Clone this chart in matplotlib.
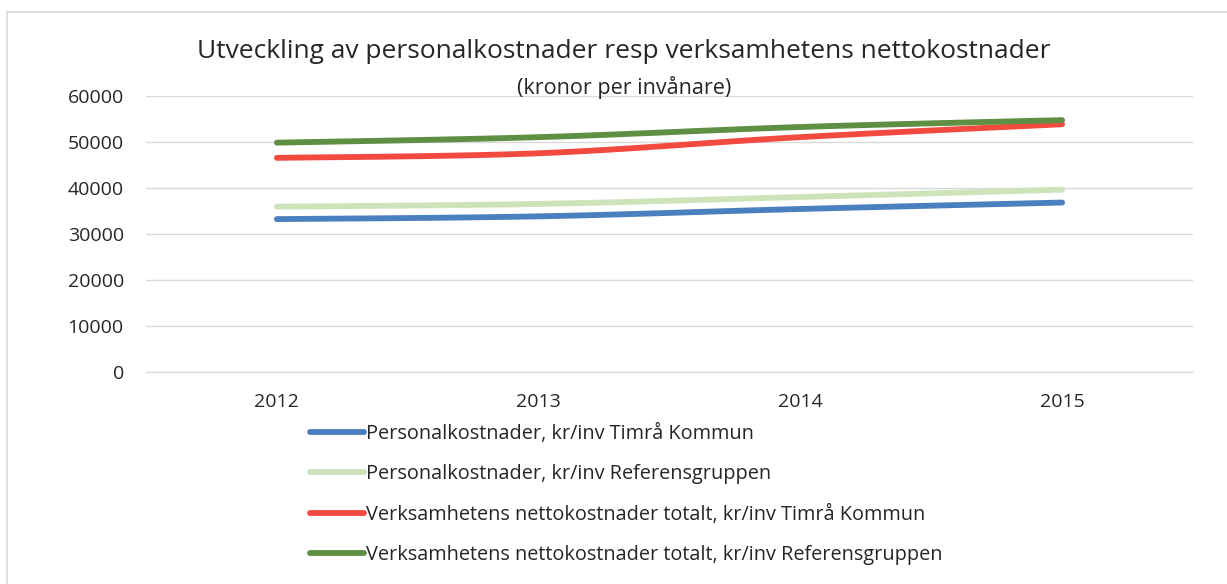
import numpy as np
import matplotlib
matplotlib.use("Agg")
import matplotlib.pyplot as plt
from matplotlib.patches import Rectangle

plt.rcParams['font.family'] = ['Open Sans', 'DejaVu Sans']

years = ["2012", "2013", "2014", "2015"]
pers_timra = [33200, 33800, 35400, 36800]
pers_ref = [35900, 36500, 38000, 39600]
netto_timra = [46500, 47500, 51000, 53800]
netto_ref = [49800, 51000, 53200, 54700]

labels = [
    "Personalkostnader, kr/inv Timrå Kommun",
    "Personalkostnader, kr/inv Referensgruppen",
    "Verksamhetens nettokostnader totalt, kr/inv Timrå Kommun",
    "Verksamhetens nettokostnader totalt, kr/inv Referensgruppen",
]
colors = ["#4a7fc0", "#cde4bb", "#f24a3e", "#5f8f43"]
series = [pers_timra, pers_ref, netto_timra, netto_ref]

title = "Utveckling av personalkostnader resp verksamhetens nettokostnader"
subtitle = "(kronor per invånare)"


def smooth(xs, ys, n=40):
    xs = np.asarray(xs, float)
    ys = np.asarray(ys, float)
    px = np.concatenate([[xs[0]], xs, [xs[-1]]])
    py = np.concatenate([[ys[0]], ys, [ys[-1]]])
    outx, outy = [], []
    t = np.linspace(0, 1, n)
    for i in range(1, len(px) - 2):
        p0 = np.array([px[i], py[i]])
        p3 = np.array([px[i + 1], py[i + 1]])
        c1 = p0 + (p3 - np.array([px[i - 1], py[i - 1]])) / 6
        c2 = p3 - (np.array([px[i + 2], py[i + 2]]) - p0) / 6
        b = ((1 - t) ** 3)[:, None] * p0 + (3 * (1 - t) ** 2 * t)[:, None] * c1 \
            + (3 * (1 - t) * t ** 2)[:, None] * c2 + (t ** 3)[:, None] * p3
        outx.extend(b[:, 0]); outy.extend(b[:, 1])
    return np.array(outx), np.array(outy)


fig = plt.figure(figsize=(12.27, 5.84), dpi=100)
fig.patches.append(Rectangle((7 / 1227, -0.1), 1.2, (584 - 12) / 584 + 0.1,
                             transform=fig.transFigure, fill=False,
                             edgecolor="#d9d9d9", linewidth=1.2))

ax = fig.add_axes([146 / 1227, (584 - 372) / 584, (1193 - 146) / 1227, (372 - 95.7) / 584])
x = np.arange(len(years))
handles = []
for ys, c, lab in zip(series, colors, labels):
    sx, sy = smooth(x, ys)
    h, = ax.plot(sx, sy, color=c, linewidth=4.2, solid_capstyle="round", label=lab)
    handles.append(h)

ax.set_xlim(-0.5, len(years) - 0.5)
ax.set_ylim(0, 60000)
ax.set_yticks(np.arange(0, 60001, 10000))
ax.set_xticks(x)
ax.set_xticklabels(years)
ax.grid(axis="y", color="#d9d9d9", linewidth=1)
ax.set_axisbelow(True)
for s in ["top", "right", "left"]:
    ax.spines[s].set_visible(False)
ax.spines["bottom"].set_color("#d9d9d9")
ax.tick_params(axis="both", length=0, labelsize=14, colors="#262626")
ax.tick_params(axis="y", pad=16)
ax.tick_params(axis="x", pad=15)

fig.text(624 / 1227, 1 - 51 / 584, title, ha="center", va="center", fontsize=19, color="#262626")
fig.text(624 / 1227, 1 - 88 / 584, subtitle, ha="center", va="center", fontsize=15.5, color="#262626")

fig.legend(handles=handles, labels=labels, loc="upper left",
           bbox_to_anchor=(292 / 1227, 1 - 406 / 584), frameon=False,
           fontsize=14.3, handlelength=2.7, handletextpad=0.15, labelspacing=1.03,
           labelcolor="#262626")

fig.savefig("out.png", dpi=100)
